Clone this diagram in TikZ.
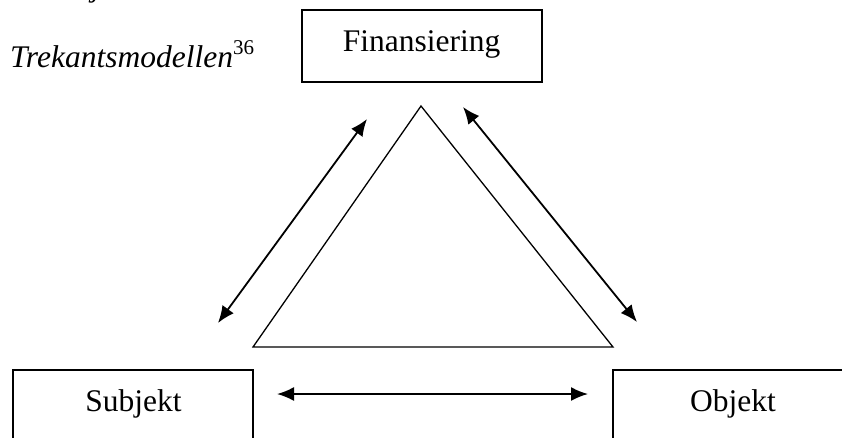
\documentclass[tikz,border=0pt]{standalone}
\usepackage{fontspec}
\setmainfont{Liberation Serif}
\usetikzlibrary{arrows.meta}
\begin{document}
\begin{tikzpicture}[x=1pt,y=-1pt,
  box/.style={draw,line width=2pt,minimum width=240pt,minimum height=72pt,inner sep=0pt},
  lbl/.style={font=\fontsize{31.5}{36}\selectfont,anchor=base,inner sep=0pt},
  dbl/.style={line width=1.8pt,{Latex[length=17pt,width=14pt]}-{Latex[length=17pt,width=14pt]}},
  tri/.style={line width=1.3pt,line join=miter}]
\useasboundingbox (0,0) rectangle (842,437);
\clip (0,0) rectangle (842,437);
% cut-off line above
\node[lbl,anchor=base west] (top) at (92,-4) {\itshape j};
% title
\node[lbl,anchor=base west] (title) at (10,67) {\itshape Trekantsmodellen\upshape\raisebox{13pt}{\fontsize{21}{22}\selectfont 36}};
% boxes
\node[box] (fin) at (421.5,46) {};
\node[lbl] (fint) at (421.5,51) {Finansiering};
\node[box] (sub) at (133,406) {};
\node[lbl] (subt) at (133.5,411) {Subjekt};
\node[box] (obj) at (733,406) {};
\node[lbl] (objt) at (733,411) {Objekt};
% triangle
\coordinate (tA) at (421,106);
\coordinate (tB) at (253,347);
\coordinate (tC) at (613,347);
\draw[tri] (tA) -- (tB) -- (tC) -- cycle;
% arrows
\coordinate (l1) at (218,323);
\coordinate (l2) at (367,119);
\coordinate (r1) at (463,107);
\coordinate (r2) at (637,322);
\coordinate (b1) at (277,394);
\coordinate (b2) at (588,394);
\draw[dbl] (l1) -- (l2);
\draw[dbl] (r1) -- (r2);
\draw[dbl] (b1) -- (b2);
\end{tikzpicture}
\end{document}
